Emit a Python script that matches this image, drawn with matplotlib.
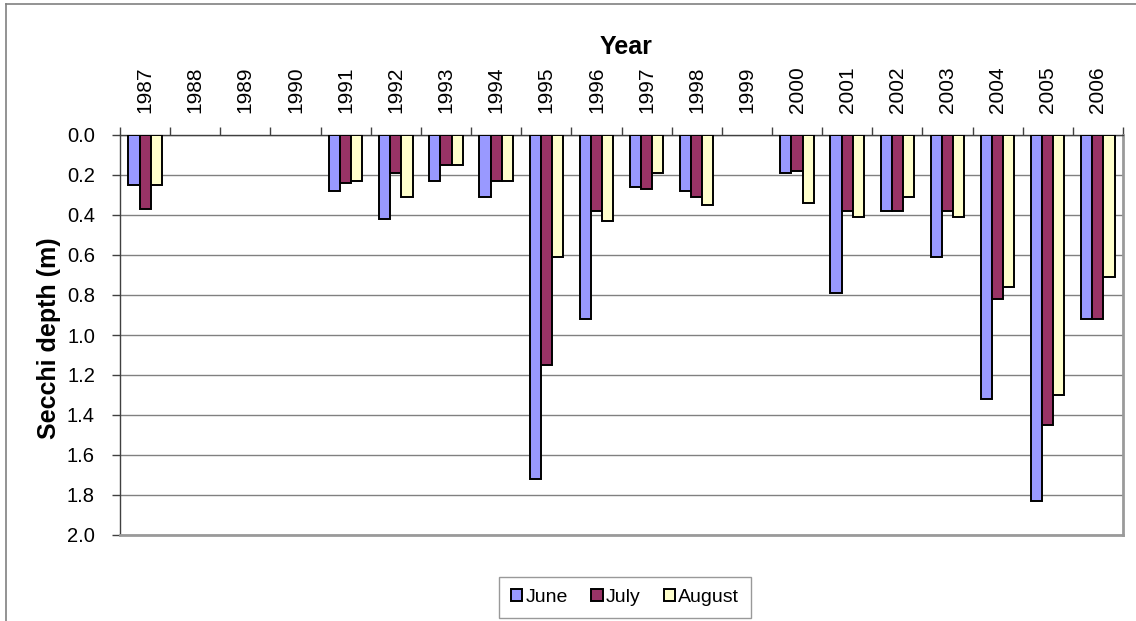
import numpy as np
import matplotlib
matplotlib.use("Agg")
import matplotlib.pyplot as plt
from matplotlib.lines import Line2D
from matplotlib.ticker import FixedLocator, MultipleLocator, FormatStrFormatter

nan = np.nan
years = ["1987", "1988", "1989", "1990", "1991", "1992", "1993", "1994", "1995", "1996",
         "1997", "1998", "1999", "2000", "2001", "2002", "2003", "2004", "2005", "2006"]
june = [0.25, nan, nan, nan, 0.28, 0.42, 0.23, 0.31, 1.72, 0.92,
        0.26, 0.28, nan, 0.19, 0.79, 0.38, 0.61, 1.32, 1.83, 0.92]
july = [0.37, nan, nan, nan, 0.24, 0.19, 0.15, 0.23, 1.15, 0.38,
        0.27, 0.31, nan, 0.18, 0.38, 0.38, 0.38, 0.82, 1.45, 0.92]
august = [0.25, nan, nan, nan, 0.23, 0.31, 0.15, 0.23, 0.61, 0.43,
          0.19, 0.35, nan, 0.34, 0.41, 0.31, 0.41, 0.76, 1.30, 0.71]
series_names = ["June", "July", "August"]
series_colors = ["#9999FF", "#993366", "#FFFFCC"]

plt.rcParams['font.family'] = ['Liberation Sans', 'DejaVu Sans']

W, H = 1136, 621
fig = plt.figure(figsize=(W / 100, H / 100), dpi=100)
ax = fig.add_axes([120 / W, 1 - 535 / H, (1123 - 120) / W, (535 - 135) / H])

x = np.arange(len(years))
bw = 0.222
for i, (vals, name, col) in enumerate(zip([june, july, august], series_names, series_colors)):
    ax.bar(x + (i - 1) * bw, vals, width=bw, color=col, edgecolor="black",
           linewidth=1.4, label=name, zorder=3)

ax.set_xlim(-0.5, len(years) - 0.5)
ax.set_ylim(2.0, 0.0)

# x axis on top
ax.xaxis.set_ticks_position("top")
ax.xaxis.set_label_position("top")
ax.xaxis.set_major_locator(FixedLocator(np.arange(-0.5, len(years), 1.0)))
ax.xaxis.set_minor_locator(FixedLocator(x))
ax.set_xticklabels([], minor=False)
ax.set_xticks(x, years, minor=True, rotation=90)
ax.tick_params(axis="x", which="major", length=6, width=1, color="#404040", top=True, bottom=False)
ax.tick_params(axis="x", which="minor", length=0, pad=16, labelsize=15, top=True, bottom=False)

ax.yaxis.set_major_locator(MultipleLocator(0.2))
ax.yaxis.set_major_formatter(FormatStrFormatter("%.1f"))
ax.tick_params(axis="y", which="major", length=6, width=1, color="#404040", pad=12, labelsize=14.5)

ax.grid(axis="y", color="#808080", linewidth=1, zorder=0)
ax.set_axisbelow(True)

ax.spines["top"].set_color("#404040")
ax.spines["top"].set_linewidth(1)
ax.spines["left"].set_color("#404040")
ax.spines["left"].set_linewidth(1)
ax.spines["right"].set_color("#9a9a9a")
ax.spines["right"].set_linewidth(2)
ax.spines["bottom"].set_color("#9a9a9a")
ax.spines["bottom"].set_linewidth(2)

fig.text(626 / W, 1 - 47 / H, "Year", ha="center", va="center", fontsize=18, fontweight="bold")
fig.text(49 / W, 1 - 338 / H, "Secchi depth (m)", ha="center", va="center", rotation=90,
         fontsize=18, fontweight="bold")

leg = ax.legend(loc="center", bbox_to_anchor=(625 / W, 1 - 597.5 / H), bbox_transform=fig.transFigure,
                ncol=3, fontsize=14, frameon=True, fancybox=False, handlelength=0.6, handleheight=0.6,
                handletextpad=0.15, columnspacing=1.2, borderpad=0.6, borderaxespad=0)
leg.get_frame().set_edgecolor("#808080")
leg.get_frame().set_linewidth(1)

# outer chart frame (left and top edges visible)
fig.add_artist(Line2D([6 / W, 6 / W], [0, 1 - 4 / H], transform=fig.transFigure, color="#808080", linewidth=1.2))
fig.add_artist(Line2D([6 / W, 1], [1 - 4 / H, 1 - 4 / H], transform=fig.transFigure, color="#808080", linewidth=1.2))

fig.savefig("out.png", dpi=100)
